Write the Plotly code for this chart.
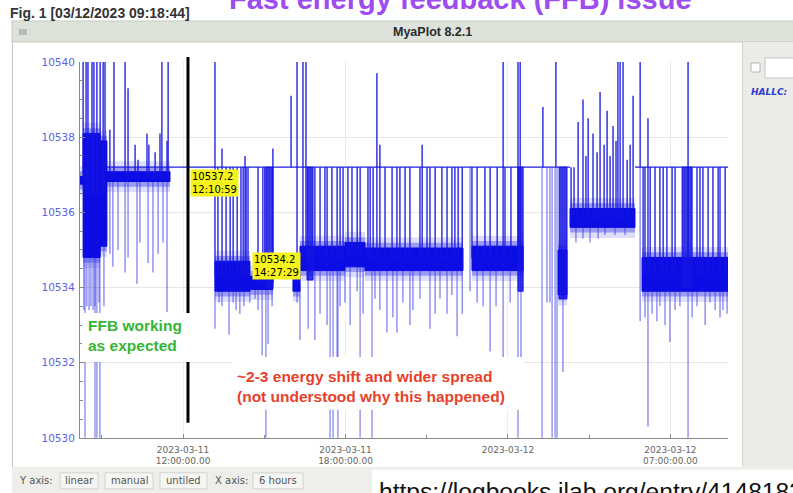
import plotly.graph_objects as go

W, H = 793, 493
# vertical placement helpers: page rows are mapped into paper fractions
ROW0, ROW_SCALE = 6.0, 0.976

HOLD = 10537.2      # value repeated while the feedback loop holds
TOP = 10540.4       # excursions that run off the top of the scale
DEEP = 10529.0      # excursions that run off the bottom of the scale

# Dense noise bands: start/end in hours since 2023-03-11 00:00, value envelope
band_t0 = [8.16, 8.31, 8.94, 9.19, 13.18, 14.47, 16.06, 16.32, 17.98, 18.72, 22.67, 25.85, 26.29, 28.95]
band_t1 = [8.31, 8.94, 9.19, 11.52, 14.47, 15.32, 16.32, 17.98, 18.72, 22.34, 24.56, 26.18, 28.69, 32.13]
band_lo = [10536.75, 10534.8, 10535.1, 10536.82, 10533.9, 10533.95, 10533.9, 10534.45,
           10534.55, 10534.45, 10534.45, 10533.8, 10535.6, 10533.9]
band_hi = [10536.95, 10538.1, 10537.9, 10537.08, 10534.7, 10534.3, 10534.4, 10535.1,
           10535.2, 10535.05, 10535.1, 10535.0, 10536.1, 10534.8]

# Bursts of rapid toggling between the band and the hold value
burst_t0 = [15.06, 16.58, 24.37, 25.89, 30.43]
burst_t1 = [15.32, 16.80, 24.56, 26.18, 30.80]
burst_lo = [10534.0, 10534.2, 10533.9, 10533.7, 10534.0]
burst_hi = [10537.2, 10537.2, 10537.2, 10537.2, 10537.2]

# Stretches where the archived value sits on the hold level
hold_t0 = [9.19, 28.69]
hold_t1 = [26.29, 32.13]

# Upward excursions (hour, peak value)
spikes_up = [
    (8.31, TOP), (8.42, TOP), (8.49, TOP), (8.64, TOP), (8.71, TOP), (8.82, TOP),
    (8.94, TOP), (9.05, TOP), (9.12, TOP),
    (9.30, 10538.2), (9.45, TOP), (9.86, TOP), (9.97, 10539.3), (10.23, 10537.8),
    (10.34, 10537.4), (10.67, 10538.1), (10.74, 10537.8), (10.97, 10537.6),
    (11.15, 10538.1), (11.22, TOP), (11.41, 10537.9), (11.45, TOP),
    (13.18, TOP), (13.29, 10537.2), (13.44, 10537.7), (13.59, 10537.2), (13.74, 10537.2),
    (13.85, 10537.2), (14.00, 10537.2), (14.14, 10537.2), (14.22, 10537.2), (14.29, 10537.5),
    (14.33, 10537.2), (14.40, 10537.2), (14.77, 10537.2), (14.95, 10537.2), (15.02, 10537.2),
    (15.32, 10537.7),
    (15.99, 10539.1), (16.21, TOP), (16.43, TOP), (16.54, TOP), (16.87, 10537.2),
    (17.06, 10537.2), (17.24, 10537.2), (17.32, 10537.2), (17.50, 10537.2), (17.69, 10537.2),
    (17.80, 10537.2), (17.91, 10537.2), (18.09, 10537.2), (18.24, 10537.2), (18.43, 10537.2),
    (18.54, 10537.2), (18.83, 10537.2), (18.91, 10537.2), (19.02, 10537.2), (19.16, 10539.7),
    (19.27, 10537.8), (19.46, 10537.2), (19.72, 10537.2), (19.90, 10537.2), (20.01, 10537.2),
    (20.20, 10537.2), (20.38, 10537.2), (20.75, 10537.2), (20.83, 10537.8), (21.01, 10537.2),
    (21.12, 10537.2), (21.31, 10537.2), (21.56, 10537.2), (21.75, 10537.2), (21.93, 10537.2),
    (22.04, 10537.2), (22.16, 10537.2), (22.31, 10537.2), (22.67, 10537.2), (22.86, 10537.2),
    (23.15, 10537.2), (23.34, 10537.2), (23.60, 10537.2), (23.82, TOP), (23.89, 10537.2),
    (24.11, 10537.2), (24.37, TOP), (24.45, TOP),
    (25.29, 10538.8), (25.77, TOP),
    (26.33, 10537.2), (26.44, 10537.2), (26.59, 10538.4), (26.77, 10539.0), (26.88, 10537.5),
    (26.96, 10538.5), (27.14, 10538.1), (27.29, 10537.6), (27.40, 10539.2), (27.55, 10537.8),
    (27.66, 10538.7), (27.77, 10537.5), (27.88, 10538.3), (27.99, 10537.9), (28.06, TOP),
    (28.14, TOP), (28.25, TOP), (28.40, 10537.4), (28.51, 10537.8), (28.62, 10539.1),
    (28.88, TOP), (28.99, 10537.2), (29.06, 10537.2), (29.17, 10538.5), (29.25, 10537.2),
    (29.43, 10537.2), (29.61, 10537.2), (29.73, 10537.2), (29.87, 10537.2), (30.06, 10537.2),
    (30.17, 10537.2), (30.65, TOP), (30.98, 10537.2), (31.09, 10537.2), (31.20, 10537.2),
    (31.39, 10537.2), (31.57, 10537.2), (31.76, 10537.2), (31.83, 10537.2), (32.02, 10537.2),
]

# Downward excursions (hour, lowest value)
spikes_down = [
    (8.34, 10533.4), (8.45, 10533.5), (8.53, 10533.4), (8.60, 10533.5), (8.68, 10533.4),
    (8.75, 10533.5), (8.90, 10533.6), (9.08, 10533.5),
    (9.30, 10534.9), (9.41, 10534.55), (9.60, 10535.0), (9.86, 10534.4), (9.97, 10534.8),
    (10.30, 10534.1), (10.41, 10535.2), (10.71, 10534.65), (10.89, 10534.4), (11.08, 10534.9),
    (11.26, 10535.2), (11.41, 10533.35),
    (13.18, 10532.9), (13.33, 10533.6), (13.44, 10533.5), (13.70, 10532.75), (13.85, 10533.6),
    (13.96, 10533.4), (14.10, 10533.3), (14.25, 10533.5), (14.47, 10533.6), (14.66, 10533.7),
    (14.77, 10533.4), (14.92, 10532.2), (15.14, 10532.5), (15.29, 10533.5),
    (16.21, 10533.6), (16.32, 10532.6), (16.62, 10532.9), (16.87, 10532.6), (17.06, 10533.3),
    (17.32, 10533.0), (17.69, 10532.1), (17.80, 10533.5), (17.98, 10533.6), (18.17, 10533.0),
    (18.43, 10533.9), (18.65, 10533.3), (19.09, 10533.7), (19.27, 10533.4), (19.53, 10532.8),
    (19.75, 10533.2), (19.90, 10532.8), (20.12, 10533.6), (20.38, 10533.0), (20.49, 10533.4),
    (20.75, 10533.7), (21.12, 10532.9), (21.31, 10533.3), (21.49, 10533.7), (21.75, 10533.3),
    (21.93, 10533.8), (22.12, 10532.7), (22.31, 10533.3), (22.60, 10533.9), (22.86, 10533.6),
    (23.08, 10533.5), (23.34, 10532.3), (23.56, 10533.5), (23.82, 10532.1), (24.08, 10533.6),
    (24.48, 10532.0),
    (25.44, 10533.6), (25.55, 10533.6), (26.03, 10531.75),
    (26.51, 10535.2), (26.77, 10535.3), (27.03, 10535.2), (27.33, 10535.3), (27.58, 10535.4),
    (27.95, 10535.4), (28.32, 10535.4),
    (28.88, 10533.1), (29.06, 10533.2), (29.17, 10530.3), (29.32, 10533.3), (29.50, 10533.1),
    (29.61, 10533.5), (29.80, 10533.0), (29.98, 10532.55), (30.17, 10533.4), (30.35, 10533.5),
    (30.80, 10533.2), (30.98, 10533.5), (31.28, 10533.0), (31.46, 10533.6), (31.65, 10533.4),
    (31.83, 10533.2), (31.94, 10533.4), (32.09, 10533.3),
]

# Drops that leave the bottom of the scale
spikes_deep = [8.38, 8.75, 8.82, 8.93, 15.06, 17.43, 17.54, 17.72, 18.54, 18.98,
               24.37, 25.26, 25.63, 25.74, 25.81, 30.65]

# Cursor read-outs
marker_times = ["12:10:59", "14:27:29"]
marker_values = [10537.2, 10534.2]

x_tickvals = [12, 18, 24, 30]
x_ticktext = ["2023-03-11<br>12:00:00.00", "2023-03-11<br>18:00:00.00",
              "2023-03-12", "2023-03-12<br>07:00:00.00"]
y_tickvals = [10530, 10532, 10534, 10536, 10538, 10540]


def hours(ts):
    h, m, s = (int(p) for p in ts.split(":"))
    return h + m / 60 + s / 3600


def base_at(t):
    for a, b, lo, hi in zip(band_t0, band_t1, band_lo, band_hi):
        if a <= t <= b:
            return (lo + hi) / 2
    return HOLD


def boxes(t0s, t1s, los, his, pad=0.0):
    xs, ys = [], []
    for a, b, lo, hi in zip(t0s, t1s, los, his):
        xs += [a, b, b, a, a, None]
        ys += [lo - pad, lo - pad, hi + pad, hi + pad, lo - pad, None]
    return xs, ys


def strokes(pairs):
    xs, ys = [], []
    for t, v in pairs:
        xs += [t, t, None]
        ys += [base_at(t), v, None]
    return xs, ys


fig = go.Figure()

# hold level
hx, hy = [], []
for a, b in zip(hold_t0, hold_t1):
    hx += [a, b, None]
    hy += [HOLD, HOLD, None]
fig.add_trace(go.Scatter(x=hx, y=hy, mode="lines",
                         line=dict(color="rgb(30,30,225)", width=1.2), hoverinfo="skip"))

# down strokes (lighter)
dx, dy = strokes(spikes_down)
fig.add_trace(go.Scatter(x=dx, y=dy, mode="lines",
                         line=dict(color="rgba(45,45,230,0.6)", width=1.3), hoverinfo="skip"))
ex, ey = strokes([(t, DEEP) for t in spikes_deep])
fig.add_trace(go.Scatter(x=ex, y=ey, mode="lines",
                         line=dict(color="rgba(70,70,230,0.55)", width=1.5), hoverinfo="skip"))

# band: soft outer fringe, inner fringe, dense core
for pad, color in [(0.28, "rgba(70,70,235,0.18)"), (0.14, "rgba(55,55,235,0.4)")]:
    bx, by = boxes(band_t0, band_t1, band_lo, band_hi, pad=pad)
    fig.add_trace(go.Scatter(x=bx, y=by, mode="lines", fill="toself",
                             fillcolor=color, line=dict(width=0), hoverinfo="skip"))
bx, by = boxes(band_t0, band_t1, band_lo, band_hi)
fig.add_trace(go.Scatter(x=bx, y=by, mode="lines", fill="toself",
                         fillcolor="rgb(12,12,228)", line=dict(color="rgb(12,12,228)", width=1),
                         hoverinfo="skip"))
ux, uy = boxes(burst_t0, burst_t1, burst_lo, burst_hi)
fig.add_trace(go.Scatter(x=ux, y=uy, mode="lines", fill="toself",
                         fillcolor="rgba(20,20,228,0.85)", line=dict(color="rgb(20,20,228)", width=1),
                         hoverinfo="skip"))

# up strokes (dark)
sx, sy = strokes(spikes_up)
fig.add_trace(go.Scatter(x=sx, y=sy, mode="lines",
                         line=dict(color="rgb(20,20,225)", width=1.3), hoverinfo="skip"))


def pxx(x):
    return x / W


def pxy(y):
    return 1 - ((y - ROW0) / ROW_SCALE) / H


def rect(x0, y0, x1, y1, fill, line=None, layer="below"):
    return dict(type="rect", xref="paper", yref="paper",
                x0=pxx(x0), x1=pxx(x1), y0=pxy(y1), y1=pxy(y0),
                fillcolor=fill, layer=layer,
                line=dict(color=line if line else fill, width=1 if line else 0))


t_cursor = hours(marker_times[0])
shapes = [
    rect(12, 21, 796, 42, "#dde3da", "#c4cbc0"),
    dict(type="line", xref="paper", yref="paper", x0=pxx(12.5), x1=pxx(12.5),
         y0=pxy(467), y1=pxy(42), line=dict(color="#c2c4c0", width=1), layer="below"),
    rect(19, 29, 27, 35, "#b8bbb6"),
    rect(742, 42, 796, 469, "#ebebe7"),
    dict(type="line", xref="paper", yref="paper", x0=pxx(742.5), x1=pxx(742.5),
         y0=pxy(469), y1=pxy(42), line=dict(color="#d3d3cf", width=1), layer="below"),
    rect(751, 63, 760, 72, "#ffffff", "#b4b4b0"),
    rect(765, 58, 800, 78, "#ffffff", "#c4c4c0"),
    rect(12, 467, 796, 510, "#eeeeeb"),
    rect(60, 473, 98, 489, "#f5f5f3", "#d2d2ce"),
    rect(105, 473, 153, 489, "#f5f5f3", "#d2d2ce"),
    rect(160, 473, 207, 489, "#f5f5f3", "#d2d2ce"),
    rect(253, 473, 303, 489, "#f5f5f3", "#d2d2ce"),
    rect(372, 470, 796, 510, "#ffffff"),
    dict(type="line", xref="x", yref="paper", x0=t_cursor, x1=t_cursor,
         y0=pxy(423), y1=pxy(57), line=dict(color="black", width=3), layer="above"),
    rect(82, 313, 190, 362, "#ffffff", layer="above"),
    rect(232, 357, 524, 410, "#ffffff", layer="above"),
]

ann = []


def text(x, y, s, size, color, family="DejaVu Sans", xanchor="left"):
    ann.append(dict(x=pxx(x), y=pxy(y), xref="paper", yref="paper", text=s,
                    showarrow=False, xanchor=xanchor, yanchor="middle", align="left",
                    font=dict(family=family, size=size, color=color)))


text(8, 13, "<b>Fig. 1 [03/12/2023 09:18:44]</b>", 14, "#333333", "Liberation Sans")
text(460, -1, "<b>Fast energy feedback (FFB) issue</b>", 29, "#9d4cf0", "Liberation Sans", "center")
text(432, 32, "<b>MyaPlot 8.2.1</b>", 12.5, "#2b2b2b", "Liberation Sans", "center")
text(749, 92, "<b><i>HALLC:</i></b>", 9, "#2b3bd6")
text(17, 481, "Y axis:", 10, "#555555")
text(79, 481, "linear", 10, "#555555", xanchor="center")
text(129, 481, "manual", 10, "#555555", xanchor="center")
text(183.5, 481, "untiled", 10, "#555555", xanchor="center")
text(213, 481, "X axis:", 10, "#555555")
text(278, 481, "6 hours", 10, "#555555", xanchor="center")
text(377, 492, "https://logbooks.jlab.org/entry/4148183", 24.6, "#111111", "Liberation Sans")
text(86, 336, "<b>FFB working<br>as expected</b>", 15.5, "#35b535", "Liberation Sans")
text(235, 387, "<b>~2-3 energy shift and wider spread<br>(not understood why this happened)</b>",
     15.5, "#e8402a", "Liberation Sans")

for k, (ts, v) in enumerate(zip(marker_times, marker_values)):
    ann.append(dict(x=hours(ts), y=v, xref="x", yref="y",
                    text=f"{v:.1f}<br>{ts}", showarrow=False,
                    xanchor="left", yanchor="top" if k == 0 else "bottom",
                    xshift=2, yshift=-2 if k == 0 else 0,
                    bgcolor="#f6f31a", borderpad=1, align="left",
                    font=dict(family="DejaVu Sans", size=10, color="black")))

fig.update_layout(
    width=W, height=H, margin=dict(l=0, r=0, t=0, b=0),
    paper_bgcolor="white", plot_bgcolor="white", showlegend=False,
    shapes=shapes, annotations=ann,
    xaxis=dict(domain=[80 / W, 728 / W], range=[8.196, 32.125],
               tickmode="array", tickvals=x_tickvals, ticktext=x_ticktext,
               tickfont=dict(family="DejaVu Sans", size=9, color="#666666"),
               ticks="inside", ticklen=4, tickcolor="#888888", ticklabelstandoff=3,
               minor=dict(tickmode="linear", tick0=0, dtick=3, ticks="inside",
                          ticklen=3, tickcolor="#888888", showgrid=False),
               showgrid=True, gridcolor="#ececec", gridwidth=1,
               showline=True, linecolor="#8a8a8a", linewidth=1,
               zeroline=False, fixedrange=True),
    yaxis=dict(domain=[pxy(438), pxy(62)], range=[10530, 10540],
               tickmode="array", tickvals=y_tickvals, tickformat="d",
               tickfont=dict(family="DejaVu Sans", size=10.5, color="#5b63e3"),
               ticks="inside", ticklen=5, tickcolor="#888888", ticklabelstandoff=2,
               minor=dict(tickmode="linear", tick0=10530, dtick=0.5, ticks="inside",
                          ticklen=3, tickcolor="#888888", showgrid=False),
               showgrid=True, gridcolor="#e6e6e6", gridwidth=1,
               showline=True, linecolor="#8a8a8a", linewidth=1,
               zeroline=False, fixedrange=True),
)

fig.write_html("out.html")
